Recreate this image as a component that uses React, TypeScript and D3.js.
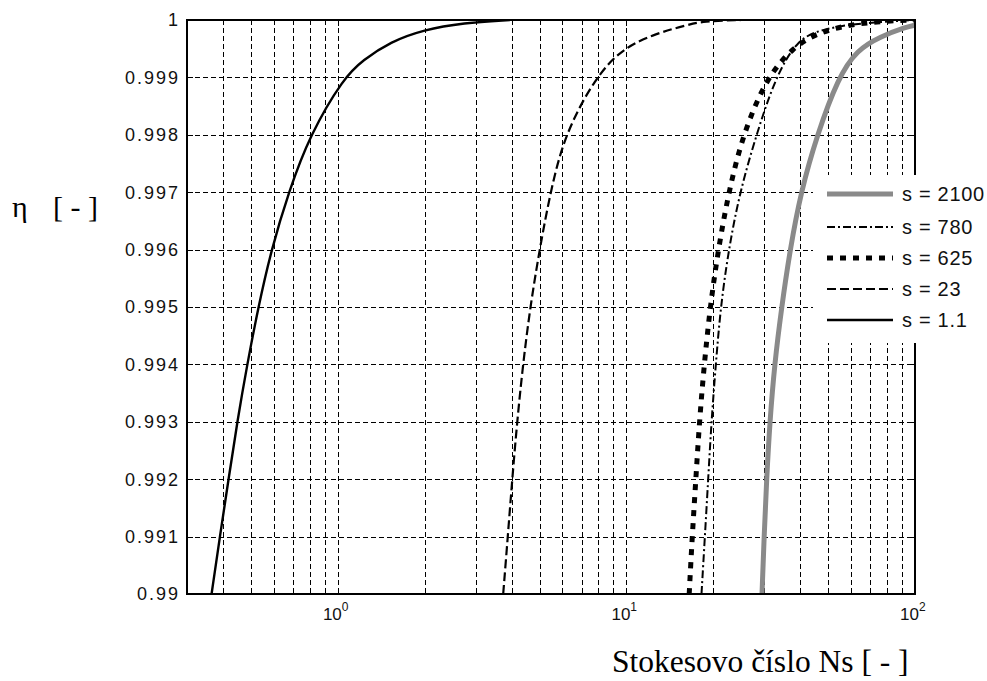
import * as d3 from "d3";

// readings
const yTickValues = [0.99, 0.991, 0.992, 0.993, 0.994, 0.995, 0.996, 0.997, 0.998, 0.999, 1];
const yTickLabels = ["0.99", "0.991", "0.992", "0.993", "0.994", "0.995", "0.996", "0.997", "0.998", "0.999", "1"];
const xDecades = [1, 10, 100];
const xDecadeExp = ["0", "1", "2"];

const ns11 = [0.365, 0.39, 0.418, 0.448, 0.485, 0.53, 0.588, 0.675, 0.8, 1.05, 1.22, 1.52, 1.98, 2.72, 3.95];
const eta11 = [0.99, 0.991, 0.992, 0.993, 0.994, 0.995, 0.996, 0.997, 0.998, 0.999, 0.9993, 0.99962, 0.99983, 0.99995, 1.0];

const ns23 = [3.74, 3.88, 4.02, 4.18, 4.38, 4.64, 5.0, 5.45, 6.1, 7.8, 9.7, 12.7, 16.2, 18.4, 25];
const eta23 = [0.99, 0.991, 0.992, 0.993, 0.994, 0.995, 0.996, 0.997, 0.998, 0.999, 0.99951, 0.99977, 0.99991, 0.99998, 1.0];

const ns625 = [16.5, 16.9, 17.4, 17.9, 18.6, 19.5, 20.8, 22.6, 25.3, 30.6, 37.9, 45.7, 58.1, 76, 100];
const eta625 = [0.99, 0.991, 0.992, 0.993, 0.994, 0.995, 0.996, 0.997, 0.998, 0.999, 0.99953, 0.99977, 0.99991, 0.99998, 1.0];

const ns780 = [18.2, 18.7, 19.2, 19.7, 20.4, 21.2, 22.6, 24.7, 28.2, 32.8, 39.3, 47.6, 61, 100];
const eta780 = [0.99, 0.991, 0.992, 0.993, 0.994, 0.995, 0.996, 0.997, 0.998, 0.999, 0.99968, 0.99983, 0.99994, 1.0];

const ns2100 = [29.5, 30.0, 30.6, 31.4, 32.6, 34.5, 36.9, 40.2, 45.8, 54.2, 63, 75.7, 93.5, 100];
const eta2100 = [0.99, 0.991, 0.992, 0.993, 0.994, 0.995, 0.996, 0.997, 0.998, 0.999, 0.99948, 0.99971, 0.99988, 0.99991];

const legendLabels = ["s = 2100", "s = 780", "s = 625", "s = 23", "s = 1.1"];

const W = 987, H = 681;
const left = 187, right = 915, top = 20, bottom = 594;

const x = d3.scaleLog().domain([0.3, 100]).range([left, right]);
const y = d3.scaleLinear().domain([0.99, 1]).range([bottom, top]);

const series = [
  { ns: ns2100, eta: eta2100, stroke: "#8a8a8a", width: 5, dash: "none" },
  { ns: ns780, eta: eta780, stroke: "#000", width: 2, dash: "8 3 2 3" },
  { ns: ns625, eta: eta625, stroke: "#000", width: 5, dash: "6 7" },
  { ns: ns23, eta: eta23, stroke: "#000", width: 2.2, dash: "9 4" },
  { ns: ns11, eta: eta11, stroke: "#000", width: 2.4, dash: "none" },
];

const line = d3
  .line<[number, number]>()
  .x((d) => x(d[0]))
  .y((d) => y(d[1]))
  .curve(d3.curveBasis);

const tickFont = "'Liberation Sans', Arial, sans-serif";
const titleFont = "'Liberation Serif', 'Times New Roman', serif";

export default function App() {
  const xGrid = x.ticks().filter((v) => v > 0.3 && v < 100);
  const yGrid = yTickValues.filter((v) => v > 0.99 && v < 1);
  const lgTop = 175, lgLeft = 813;
  const rowY = [194, 227, 258, 289, 320];

  return (
    <svg
      width={W}
      height={H}
      style={{ position: "absolute", left: 0, top: 0, background: "#fff" }}
    >
      <defs>
        <clipPath id="plotclip">
          <rect x={left} y={top} width={right - left} height={bottom - top} />
        </clipPath>
      </defs>
      <rect x={0} y={0} width={W} height={H} fill="#fff" />

      {/* grid */}
      <g stroke="#000" strokeWidth={1} strokeDasharray="5 3" shapeRendering="crispEdges">
        {xGrid.map((v, i) => (
          <line key={"gx" + i} x1={Math.round(x(v))} x2={Math.round(x(v))} y1={top} y2={bottom} />
        ))}
        {yGrid.map((v, i) => (
          <line key={"gy" + i} x1={left} x2={right} y1={Math.round(y(v))} y2={Math.round(y(v))} />
        ))}
      </g>

      {/* ticks */}
      <g stroke="#000" strokeWidth={1} shapeRendering="crispEdges">
        {x.ticks().map((v, i) => {
          const major = xDecades.includes(v);
          const len = major ? 6 : 3;
          const px = Math.round(x(v));
          return (
            <g key={"tx" + i}>
              <line x1={px} x2={px} y1={bottom} y2={bottom - len} />
              <line x1={px} x2={px} y1={top} y2={top + len} />
            </g>
          );
        })}
        {yTickValues.map((v, i) => (
          <g key={"ty" + i}>
            <line x1={left} x2={left + 6} y1={Math.round(y(v))} y2={Math.round(y(v))} />
            <line x1={right} x2={right - 6} y1={Math.round(y(v))} y2={Math.round(y(v))} />
          </g>
        ))}
      </g>

      {/* curves */}
      <g clipPath="url(#plotclip)" fill="none">
        {series.map((s, i) => (
          <path
            key={"s" + i}
            d={line(s.ns.map((n, j) => [n, s.eta[j]] as [number, number])) || ""}
            stroke={s.stroke}
            strokeWidth={s.width}
            strokeDasharray={s.dash}
            strokeLinejoin="round"
          />
        ))}
      </g>

      {/* axes box */}
      <rect
        x={left}
        y={top}
        width={right - left}
        height={bottom - top}
        fill="none"
        stroke="#000"
        strokeWidth={1.5}
        shapeRendering="crispEdges"
      />

      {/* y tick labels */}
      <g fontFamily={tickFont} fontSize={18} fill="#111" letterSpacing={2}>
        {yTickValues.map((v, i) => (
          <text key={"yl" + i} x={180} y={y(v)} dy="0.36em" textAnchor="end">
            {yTickLabels[i]}
          </text>
        ))}
      </g>

      {/* x tick labels */}
      <g fontFamily={tickFont} fill="#111">
        {xDecades.map((v, i) => (
          <text key={"xl" + i} x={x(v) - 15} y={620} fontSize={17}>
            10
            <tspan dy={-9} fontSize={12}>
              {xDecadeExp[i]}
            </tspan>
          </text>
        ))}
      </g>

      {/* axis titles */}
      <g fontFamily={titleFont} fontSize={30} fill="#000">
        <text x={12} y={217}>η</text>
        <text x={53} y={217}>[ - ]</text>
        <text x={612} y={672} fontSize={31.5}>
          Stokesovo číslo Ns [ - ]
        </text>
      </g>

      {/* legend */}
      <rect x={lgLeft} y={lgTop} width={W - lgLeft} height={343 - lgTop} fill="#fff" />
      {series.map((s, i) => (
        <g key={"lg" + i}>
          <line
            x1={827}
            x2={893}
            y1={rowY[i]}
            y2={rowY[i]}
            stroke={s.stroke}
            strokeWidth={s.width}
            strokeDasharray={s.dash}
          />
          <text
            x={902}
            y={rowY[i]}
            dy="0.36em"
            fontFamily={tickFont}
            fontSize={20}
            letterSpacing={0.7}
            fill="#111"
          >
            {legendLabels[i]}
          </text>
        </g>
      ))}
    </svg>
  );
}
